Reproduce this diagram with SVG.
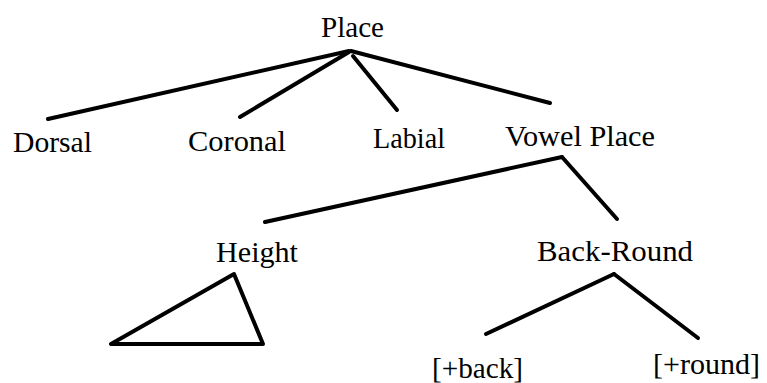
<svg xmlns="http://www.w3.org/2000/svg" width="767" height="383" viewBox="0 0 767 383">
<style>
text{font-family:"Liberation Serif","Times New Roman",serif;font-size:30px;fill:#000}
.e{stroke:#000;stroke-width:4;stroke-linecap:round;stroke-linejoin:round;fill:none}
</style>
<rect width="767" height="383" fill="#fff"/>
<g id="connectors">
<line class="e" x1="349" y1="51" x2="48" y2="119"/>
<line class="e" x1="349" y1="52" x2="240" y2="117"/>
<line class="e" x1="353" y1="56" x2="397" y2="110"/>
<line class="e" x1="351" y1="51" x2="550" y2="103"/>
<line class="e" x1="562" y1="157" x2="265" y2="222"/>
<line class="e" x1="562" y1="157" x2="617" y2="219"/>
<line class="e" x1="614" y1="274" x2="486" y2="334"/>
<line class="e" x1="614" y1="274" x2="698" y2="338"/>
</g>
<g id="place"><text x="321" y="37" textLength="63" lengthAdjust="spacingAndGlyphs">Place</text></g>
<g id="dorsal"><text x="13" y="152" textLength="79" lengthAdjust="spacingAndGlyphs">Dorsal</text></g>
<g id="coronal"><text x="188" y="151" textLength="98" lengthAdjust="spacingAndGlyphs">Coronal</text></g>
<g id="labial"><text x="373" y="148" textLength="72" lengthAdjust="spacingAndGlyphs">Labial</text></g>
<g id="vowel-place"><text x="505" y="146" textLength="150" lengthAdjust="spacingAndGlyphs">Vowel Place</text></g>
<g id="height"><text x="216" y="262" textLength="82" lengthAdjust="spacingAndGlyphs">Height</text>
<polygon class="e" points="234,274 111,344 263,344"/></g>
<g id="back-round"><text x="537" y="261" textLength="156" lengthAdjust="spacingAndGlyphs">Back-Round</text></g>
<g id="back"><text x="432" y="378" textLength="91" lengthAdjust="spacingAndGlyphs">[+back]</text></g>
<g id="round"><text x="653" y="374" textLength="107" lengthAdjust="spacingAndGlyphs">[+round]</text></g>
</svg>
